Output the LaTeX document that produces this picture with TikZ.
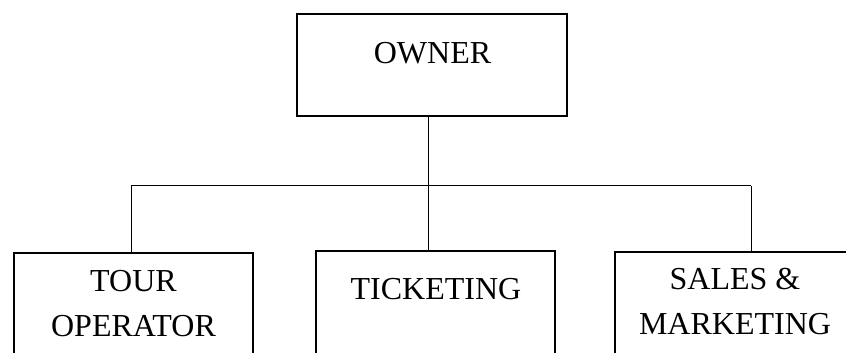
\documentclass[tikz,border=0pt]{standalone}
\usepackage{fontspec}
\setmainfont{Liberation Serif}
\begin{document}
\begin{tikzpicture}[x=1pt,y=1pt,
  box/.style={draw=black,line width=2.2pt,fill=white,anchor=north,inner sep=0pt,minimum width=239pt,minimum height=110pt},
  topbox/.style={draw=black,line width=2.2pt,anchor=north,inner sep=0pt,minimum width=270pt,minimum height=102pt},
  lbl/.style={anchor=north,inner sep=0pt,align=center,font={\fontsize{32}{45}\selectfont}},
  conn/.style={draw=black,line width=1pt}]
\clip (0,0) rectangle (846,353);
\fill[white] (0,0) rectangle (846,353);
% boxes
\node[topbox] (owner) at (432,340.3) {};
\node[box] (tour) at (133.5,101) {};
\node[box] (ticket) at (435.5,103) {};
\node[box] (sales) at (734.5,102) {};
% labels
\node[lbl] (ownerT) at (432.5,310.5) {OWNER};
\node[lbl] (tourT) at (133.5,83) {TOUR\\OPERATOR};
\node[lbl] (ticketT) at (436,74.5) {TICKETING};
\node[lbl] (salesT) at (735,85) {SALES \&\\MARKETING};
% bus
\coordinate (busL) at (131,167);
\coordinate (busM) at (428.5,167);
\coordinate (busR) at (751,167);
\draw[conn] (busM |- owner.south) -- (busM);
\draw[conn] (busL) -- (busR);
\draw[conn] (busL) -- (busL |- tour.north);
\draw[conn] (busM) -- (busM |- ticket.north);
\draw[conn] (busR) -- (busR |- sales.north);
\end{tikzpicture}
\end{document}
